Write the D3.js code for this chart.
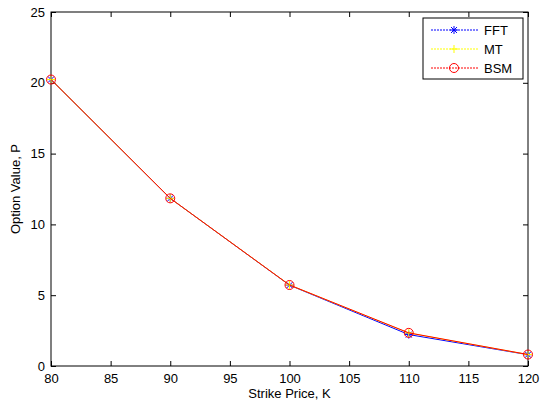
<!DOCTYPE html>
<html>
<head>
<meta charset="utf-8">
<script src="https://cdn.jsdelivr.net/npm/d3@7"></script>
<style>
body { margin: 0; background: #fff; }
text { font-family: "Liberation Sans", Arial, sans-serif; }
</style>
</head>
<body>
<svg id="chart" width="541" height="404"></svg>
<script>
var strikes = [80, 90, 100, 110, 120];
var fftValues = [20.23, 11.84, 5.71, 2.22, 0.80];
var mtValues = [20.23, 11.84, 5.72, 2.33, 0.81];
var bsmValues = [20.23, 11.84, 5.72, 2.34, 0.81];
var xTicks = [80, 85, 90, 95, 100, 105, 110, 115, 120];
var yTicks = [0, 5, 10, 15, 20, 25];

var svg = d3.select("#chart");
var margin = {left: 51, top: 12, right: 13, bottom: 38};
var w = 541 - margin.left - margin.right, h = 404 - margin.top - margin.bottom;

var x = d3.scaleLinear().domain([80, 120]).range([0, w]);
var y = d3.scaleLinear().domain([0, 25]).range([h, 0]);

var g = svg.append("g").attr("transform", "translate(" + margin.left + "," + margin.top + ")");

// ticks, inward on all sides
function ticksAt(sel, ax) {
    sel.call(ax).call(function(s) { s.select(".domain").remove(); });
    sel.selectAll("line").attr("stroke", "#000");
    sel.selectAll("text").attr("font-size", 13).attr("fill", "#000");
}
g.append("g").attr("transform", "translate(0," + h + ")")
    .call(ticksAt, d3.axisBottom(x).tickValues(xTicks).tickSize(-5).tickPadding(8));
g.append("g").call(ticksAt, d3.axisTop(x).tickValues(xTicks).tickSize(-5).tickFormat(""));
g.append("g").call(ticksAt, d3.axisLeft(y).tickValues(yTicks).tickSize(-5).tickPadding(6));
g.append("g").attr("transform", "translate(" + w + ",0)")
    .call(ticksAt, d3.axisRight(y).tickValues(yTicks).tickSize(-5).tickFormat(""));

g.append("rect").attr("width", w).attr("height", h)
    .attr("fill", "none").attr("stroke", "#000").attr("stroke-width", 1);

var line = d3.line().x(function(d) { return x(d[0]); }).y(function(d) { return y(d[1]); });
function pairs(vals) { return strikes.map(function(s, i) { return [s, vals[i]]; }); }

var series = [
    {name: "FFT", vals: fftValues, color: "#0000ff", marker: "star"},
    {name: "MT", vals: mtValues, color: "#ffff00", marker: "plus"},
    {name: "BSM", vals: bsmValues, color: "#ff0000", marker: "circle"}
];

function drawMarker(sel, type, color) {
    if (type === "circle") {
        sel.append("circle").attr("r", 4.5).attr("fill", "none").attr("stroke", color);
    } else if (type === "plus") {
        sel.append("path").attr("d", "M-4,0H4M0,-4V4").attr("stroke", color);
    } else {
        sel.append("path").attr("d", "M-4,0H4M0,-4V4M-3,-3L3,3M-3,3L3,-3").attr("stroke", color);
    }
}

series.forEach(function(s) {
    g.append("path").datum(pairs(s.vals)).attr("d", line)
        .attr("fill", "none").attr("stroke", s.color).attr("stroke-width", 1);
    g.selectAll(null).data(pairs(s.vals)).enter().append("g")
        .attr("transform", function(d) { return "translate(" + x(d[0]) + "," + y(d[1]) + ")"; })
        .each(function() { drawMarker(d3.select(this), s.marker, s.color); });
});

// legend
var lg = svg.append("g").attr("transform", "translate(423,18)");
lg.append("rect").attr("width", 100).attr("height", 61)
    .attr("fill", "#fff").attr("stroke", "#000").attr("stroke-width", 1);
series.forEach(function(s, i) {
    var yy = 12 + i * 19;
    lg.append("line").attr("x1", 8).attr("x2", 55).attr("y1", yy).attr("y2", yy)
        .attr("stroke", s.color).attr("stroke-dasharray", "2,1");
    var m = lg.append("g").attr("transform", "translate(31," + yy + ")");
    drawMarker(m, s.marker, s.color);
    lg.append("text").attr("x", 61).attr("y", yy + 5).attr("font-size", 13).text(s.name);
});

svg.append("text").attr("x", margin.left + w / 2).attr("y", 398)
    .attr("text-anchor", "middle").attr("font-size", 13).text("Strike Price, K");
svg.append("text").attr("transform", "translate(20," + (margin.top + h / 2) + ") rotate(-90)")
    .attr("text-anchor", "middle").attr("font-size", 13).text("Option Value, P");
</script>
</body>
</html>
